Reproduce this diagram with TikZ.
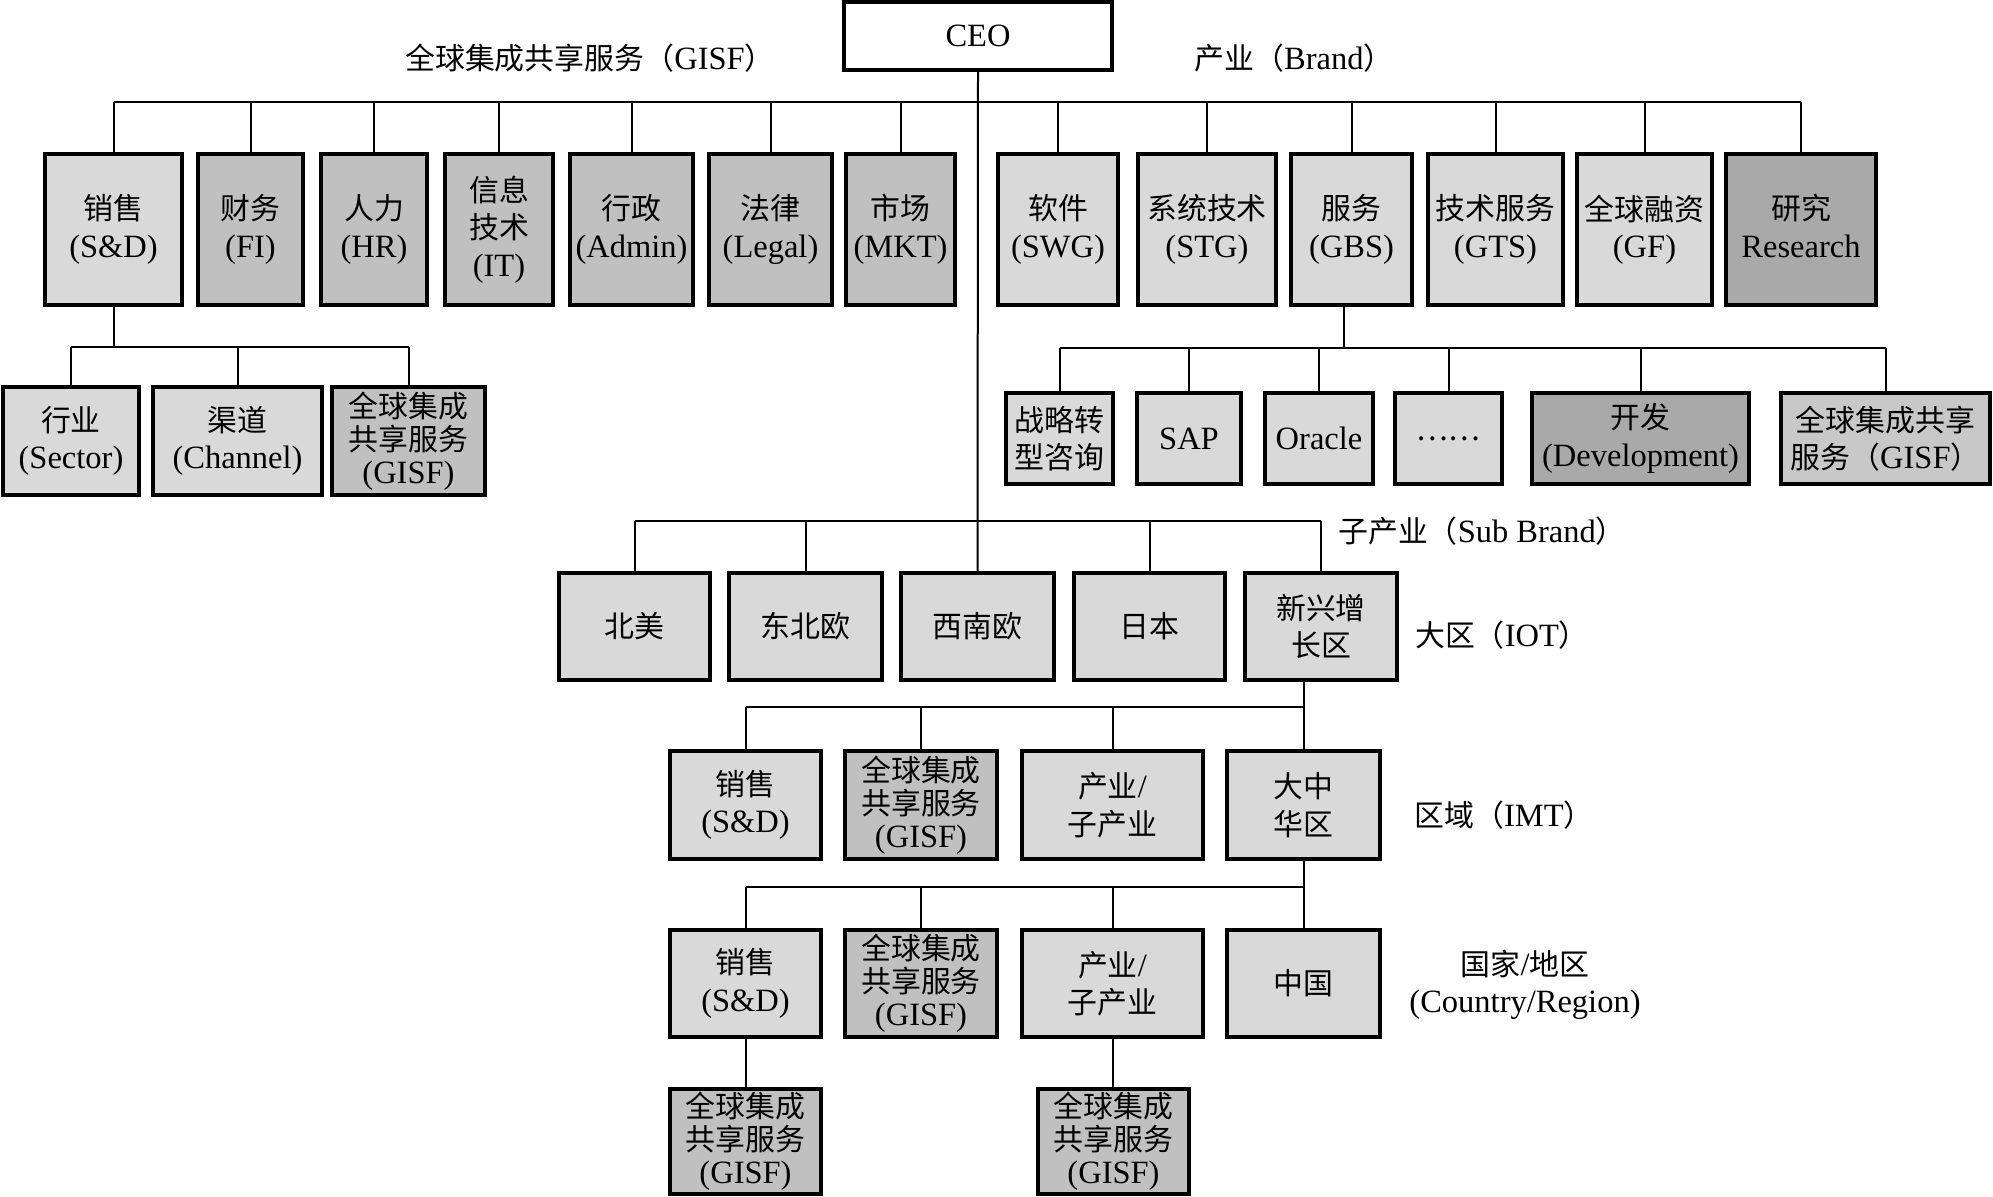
\documentclass[tikz,border=0pt]{standalone}
\usepackage{fontspec}
\setmainfont{Liberation Serif}
\newfontfamily\cjkf[Scale=0.92]{Noto Sans CJK SC}
\newcommand\zh[1]{{\cjkf #1}}
\definecolor{lgr}{HTML}{D9D9D9}
\definecolor{mgr}{HTML}{C0C0C0}
\definecolor{dgr}{HTML}{A9A9A9}
\definecolor{rgr}{HTML}{C8C8C8}
\tikzset{
  box/.style={draw=black, line width=1.6pt, inner sep=0pt, outer sep=0pt, align=center, font=\fontsize{13}{15}\selectfont},
  tight/.style={font=\fontsize{13}{13.2}\selectfont},
  stem/.style={line width=0.8pt},
  bus/.style={line width=1.1pt},
  lbl/.style={inner sep=0pt, align=center, font=\fontsize{13}{15}\selectfont},
}
\newcommand\bx[8][]{\node[box,fill=#7,minimum width={(#5-#3)*0.4pt},minimum height={(#6-#4)*0.4pt},#1] (#2) at ({(#3+#5)/2},{(#4+#6)/2}) {#8};}
\begin{document}
\begin{tikzpicture}[x=0.4pt,y=-0.4pt]
\useasboundingbox (0,0) rectangle (1993,1197);
% CEO
\bx{ceo}{844}{2}{1112}{70}{white}{CEO}
% top row
\bx{s1}{45}{154}{182}{305}{lgr}{\zh{销售}\\(S\&D)}
\bx{fi}{198}{154}{303}{305}{mgr}{\zh{财务}\\(FI)}
\bx{hr}{321}{154}{427}{305}{mgr}{\zh{人力}\\(HR)}
\bx{it}{445}{154}{553}{305}{mgr}{\zh{信息}\\\zh{技术}\\(IT)}
\bx{ad}{570}{154}{693}{305}{mgr}{\zh{行政}\\(Admin)}
\bx{lg}{709}{154}{832}{305}{mgr}{\zh{法律}\\(Legal)}
\bx{mk}{846}{154}{955}{305}{mgr}{\zh{市场}\\(MKT)}
\bx{sw}{998}{154}{1118}{305}{lgr}{\zh{软件}\\(SWG)}
\bx{st}{1138}{154}{1276}{305}{lgr}{\zh{系统技术}\\(STG)}
\bx{gbs}{1291}{154}{1412}{305}{lgr}{\zh{服务}\\(GBS)}
\bx{gts}{1428}{154}{1563}{305}{lgr}{\zh{技术服务}\\(GTS)}
\bx{gf}{1577}{154}{1712}{305}{lgr}{\zh{全球融资}\\(GF)}
\bx{rs}{1726}{154}{1876}{305}{dgr}{\zh{研究}\\Research\vphantom{()}}
% left second level
\bx{hy}{3}{387}{139}{495}{lgr}{\zh{行业}\\(Sector)}
\bx{qd}{153}{387}{322}{495}{lgr}{\zh{渠道}\\(Channel)}
\bx[tight]{g1}{332}{387}{485}{495}{mgr}{\zh{全球集成}\\\zh{共享服务}\\(GISF)}
% GBS children
\bx{zl}{1006}{393}{1113}{484}{lgr}{\zh{战略转}\\\zh{型咨询}}
\bx{sap}{1137}{393}{1241}{484}{lgr}{SAP}
\bx{orc}{1265}{393}{1373}{484}{lgr}{Oracle}
\bx{dts}{1395}{393}{1502}{484}{lgr}{\zh{……}}
\bx{dev}{1532}{393}{1749}{484}{dgr}{\zh{开发}\\(Development)}
\bx{g2}{1781}{393}{1990}{484}{rgr}{\zh{全球集成共享}\\\zh{服务（}GISF\zh{）}}
% IOT
\bx{bm}{559}{573}{710}{680}{lgr}{\zh{北美}}
\bx{dbo}{729}{573}{882}{680}{lgr}{\zh{东北欧}}
\bx{xno}{901}{573}{1054}{680}{lgr}{\zh{西南欧}}
\bx{jp}{1074}{573}{1225}{680}{lgr}{\zh{日本}}
\bx{xx}{1245}{573}{1397}{680}{lgr}{\zh{新兴增}\\\zh{长区}}
% IMT
\bx{i1}{670}{751}{821}{859}{lgr}{\zh{销售}\\(S\&D)}
\bx[tight]{i2}{845}{751}{997}{859}{mgr}{\zh{全球集成}\\\zh{共享服务}\\(GISF)}
\bx{i3}{1022}{751}{1203}{859}{lgr}{\zh{产业}/\\\zh{子产业}}
\bx{dzh}{1227}{751}{1380}{859}{lgr}{\zh{大中}\\\zh{华区}}
% Country
\bx{c1}{670}{930}{821}{1037}{lgr}{\zh{销售}\\(S\&D)}
\bx[tight]{c2}{845}{930}{997}{1037}{mgr}{\zh{全球集成}\\\zh{共享服务}\\(GISF)}
\bx{c3}{1022}{930}{1203}{1037}{lgr}{\zh{产业}/\\\zh{子产业}}
\bx{cn}{1227}{930}{1380}{1037}{lgr}{\zh{中国}}
% bottom
\bx[tight]{b1}{670}{1089}{821}{1194}{mgr}{\zh{全球集成}\\\zh{共享服务}\\(GISF)}
\bx[tight]{b2}{1038}{1089}{1189}{1194}{mgr}{\zh{全球集成}\\\zh{共享服务}\\(GISF)}
% labels
\node[lbl] (lgisf) at (590,58) {\zh{全球集成共享服务（}GISF\zh{）}};
\node[lbl] (lbrand) at (1294,58) {\zh{产业（}Brand\zh{）}};
\node[lbl] (lsub) at (1482,531) {\zh{子产业（}Sub Brand\zh{）}};
\node[lbl] (liot) at (1502,635) {\zh{大区（}IOT\zh{）}};
\node[lbl] (limt) at (1504,815) {\zh{区域（}IMT\zh{）}};
\node[lbl] (lctry) at (1525,985) {\zh{国家}/\zh{地区}\\(Country/Region)};
% connectors: top
\coordinate (tb) at (978,102);
\draw[bus] (s1.north |- tb) -- (rs.north |- tb);
\foreach \n in {s1,fi,hr,it,ad,lg,mk,sw,st,gbs,gts,gf,rs}
  \draw[stem] (\n.north) -- (\n.north |- tb);
\draw[stem] (ceo.south) -- (xno.north);
% left sub
\coordinate (lb) at (0,347);
\draw[stem] (s1.south) -- (s1.south |- lb);
\draw[bus] (hy.north |- lb) -- (g1.north |- lb);
\foreach \n in {hy,qd,g1}
  \draw[stem] (\n.north) -- (\n.north |- lb);
% GBS sub
\coordinate (gb) at (0,348);
\draw[stem] ([xshift=-3pt]gbs.south) -- ([xshift=-3pt]gbs.south |- gb);
\draw[bus] (zl.north |- gb) -- (g2.north |- gb);
\foreach \n in {zl,sap,orc,dts,dev,g2}
  \draw[stem] (\n.north) -- (\n.north |- gb);
% sub brand
\coordinate (sb) at (0,521);
\draw[bus] (bm.north |- sb) -- (xx.north |- sb);
\foreach \n in {bm,dbo,jp,xx}
  \draw[stem] (\n.north) -- (\n.north |- sb);
% IMT
\coordinate (ib) at (0,707);
\draw[stem] (dzh.north |- xx.south) -- (dzh.north);
\draw[bus] (i1.north |- ib) -- (dzh.north |- ib);
\foreach \n in {i1,i2,i3}
  \draw[stem] (\n.north) -- (\n.north |- ib);
% Country
\coordinate (cb) at (0,887);
\draw[stem] (dzh.south) -- (cn.north);
\draw[bus] (c1.north |- cb) -- (cn.north |- cb);
\foreach \n in {c1,c2,c3}
  \draw[stem] (\n.north) -- (\n.north |- cb);
% bottom
\draw[stem] (c1.south) -- (b1.north);
\draw[stem] (c3.south) -- (c3.south |- b2.north);
\end{tikzpicture}
\end{document}
